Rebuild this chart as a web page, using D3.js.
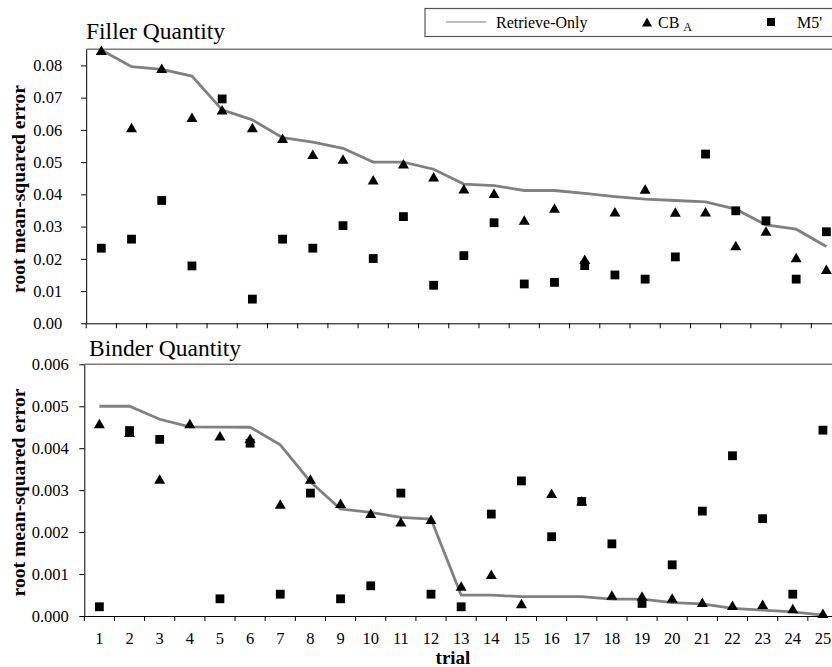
<!DOCTYPE html>
<html><head><meta charset="utf-8">
<script src="https://cdn.jsdelivr.net/npm/d3@7"></script>
<style>body{margin:0;background:#fff}svg{display:block}</style>
</head><body>
<svg id="c" width="832" height="667"></svg>
<script>
const trials = d3.range(1, 26).map(String);

const fillerRetrieve = [0.0848,0.0796,0.0788,0.0767,0.0662,0.0631,0.0576,0.0562,0.0543,0.0500,0.0500,0.0478,0.0432,0.0427,0.0412,0.0412,0.0403,0.0393,0.0385,0.0381,0.0377,0.0354,0.0305,0.0292,0.0238];
const fillerCBA = [0.0845,0.0605,0.0789,0.0637,0.0660,0.0605,0.0572,0.0522,0.0507,0.0443,0.0493,0.0452,0.0415,0.0401,0.0318,0.0355,0.0196,0.0344,0.0414,0.0343,0.0344,0.0239,0.0284,0.0202,0.0165];
const fillerM5 = [0.0233,0.0261,0.0381,0.0178,0.0696,0.0075,0.0261,0.0233,0.0303,0.0201,0.0331,0.0118,0.0210,0.0312,0.0122,0.0127,0.0179,0.0150,0.0137,0.0206,0.0525,0.0349,0.0318,0.0137,0.0284];
const fillerTicks = [0,0.01,0.02,0.03,0.04,0.05,0.06,0.07,0.08];

const binderRetrieve = [0.0050,0.0050,0.00469,0.00451,0.0045,0.0045,0.00408,0.00320,0.00255,0.00247,0.00235,0.00231,0.00050,0.00050,0.00046,0.00046,0.00046,0.00040,0.00040,0.00032,0.00029,0.00018,0.00014,0.00010,0.00002];
const binderCBA = [0.00457,0.00436,0.00325,0.00457,0.00428,0.00422,0.00265,0.00325,0.00267,0.00243,0.00223,0.00229,0.00070,0.00098,0.00028,0.00291,0.00273,0.00048,0.00046,0.00041,0.00031,0.00024,0.00026,0.00016,0.00005];
const binderM5 = [0.00022,0.00442,0.00421,null,0.00041,0.00412,0.00052,0.00293,0.00041,0.00072,0.00293,0.00052,0.00022,0.00243,0.00322,0.00189,0.00273,0.00172,0.00030,0.00122,0.00250,0.00382,0.00232,0.00052,0.00443];
const binderTicks = [0,0.001,0.002,0.003,0.004,0.005,0.006];

const seriesNames = ["Retrieve-Only", "CB", "M5'"];

const svg = d3.select("#c");
const FONT = "'Liberation Serif','Times New Roman',serif";
const lineColor = "#808080";
const triPath = "M0,-5.5L5.5,4L-5.5,4Z";

function panel(o) {
  const x = d3.scaleBand().domain(trials).range([o.left, o.right]).padding(0);
  const y = d3.scaleLinear().domain(o.domain).range([o.bottom, o.top]);
  const g = svg.append("g");
  g.append("line").attr("x1", o.left).attr("x2", 832).attr("y1", o.top).attr("y2", o.top)
    .attr("stroke", "#7a7a7a").attr("stroke-width", 1.5);
  const ya = g.append("g").attr("transform", `translate(${o.left},0)`)
    .call(d3.axisLeft(y).tickValues(o.ticks).tickFormat(d3.format(o.fmt)).tickSize(5).tickPadding(o.ypad).tickSizeOuter(0));
  ya.select(".domain").attr("stroke", "#000");
  ya.selectAll("text").attr("font-family", FONT).attr("font-size", 16.5).attr("fill", "#000");
  const xa = g.append("g").attr("transform", `translate(0,${o.bottom})`)
    .call(d3.axisBottom(x).tickSize(0).tickPadding(16.5).tickFormat(o.xlabels ? (d => d) : (() => "")));
  xa.select(".domain").attr("stroke", "#000");
  xa.selectAll("text").attr("font-family", FONT).attr("font-size", 16.5).attr("fill", "#000");
  g.append("g").selectAll("line").data(trials).join("line")
    .attr("x1", d => x(d)).attr("x2", d => x(d))
    .attr("y1", o.bottom).attr("y2", o.bottom + 5).attr("stroke", "#000");
  g.append("text").attr("x", o.titleX).attr("y", o.titleY).text(o.title)
    .attr("font-family", FONT).attr("font-size", 23.5).attr("fill", "#000");
  const yl = g.append("text").attr("transform", `translate(25,${o.labelY}) rotate(-90)`)
    .attr("text-anchor", "middle").text("root mean-squared error")
    .attr("font-family", FONT).attr("font-weight", "bold").attr("font-size", 17).attr("fill", "#000");
  const w = yl.node().getComputedTextLength();
  if (w > 0) yl.attr("font-size", 17 * o.labelW / w);
  const cx = i => x(trials[i]) + x.bandwidth() / 2;
  const line = d3.line().x((d, i) => cx(i)).y(d => y(d));
  g.append("path").datum(o.retrieve).attr("d", line).attr("fill", "none")
    .attr("stroke", lineColor).attr("stroke-width", 2.8);
  g.append("g").selectAll("rect").data(o.m5.map((v, i) => [i, v]).filter(d => d[1] != null)).join("rect")
    .attr("x", d => cx(d[0]) - 4.4).attr("y", d => y(d[1]) - 4.4)
    .attr("width", 8.8).attr("height", 8.8).attr("fill", "#000");
  g.append("g").selectAll("path").data(o.cba.map((v, i) => [i, v])).join("path")
    .attr("d", triPath).attr("transform", d => `translate(${cx(d[0])},${y(d[1])})`).attr("fill", "#000");
  return x;
}

panel({left: 86.2, right: 841.5, top: 49.3, bottom: 323.3, domain: [0, 0.085], ticks: fillerTicks, fmt: ".2f", ypad: 19,
  retrieve: fillerRetrieve, cba: fillerCBA, m5: fillerM5, title: "Filler Quantity", titleX: 86, titleY: 39, labelY: 189, labelW: 208, xlabels: false});
panel({left: 84.3, right: 838, top: 364.3, bottom: 616, domain: [0, 0.006], ticks: binderTicks, fmt: ".3f", ypad: 10.5,
  retrieve: binderRetrieve, cba: binderCBA, m5: binderM5, title: "Binder Quantity", titleX: 89, titleY: 356, labelY: 492.5, labelW: 208, xlabels: true});

svg.append("text").attr("x", 453).attr("y", 663.5).attr("text-anchor", "middle").text("trial")
  .attr("font-family", FONT).attr("font-weight", "bold").attr("font-size", 19);

const lg = svg.append("g");
lg.append("rect").attr("x", 425).attr("y", 8.5).attr("width", 420).attr("height", 28)
  .attr("fill", "#fff").attr("stroke", "#555").attr("stroke-width", 1.2);
lg.append("line").attr("x1", 446).attr("x2", 486).attr("y1", 22).attr("y2", 22).attr("stroke", lineColor).attr("stroke-width", 1.2);
lg.append("text").attr("x", 496).attr("y", 28).text(seriesNames[0]).attr("font-family", FONT).attr("font-size", 16);
lg.append("path").attr("d", "M0,-5L5,4L-5,4Z").attr("transform", "translate(647,22.5)");
const cbt = lg.append("text").attr("x", 658).attr("y", 28).attr("font-family", FONT).attr("font-size", 16);
cbt.append("tspan").text(seriesNames[1] + " ");
cbt.append("tspan").text("A").attr("font-size", 12).attr("dy", 3);
lg.append("rect").attr("x", 767).attr("y", 18).attr("width", 8).attr("height", 8);
lg.append("text").attr("x", 797).attr("y", 28).text(seriesNames[2]).attr("font-family", FONT).attr("font-size", 16);
</script>
</body></html>
